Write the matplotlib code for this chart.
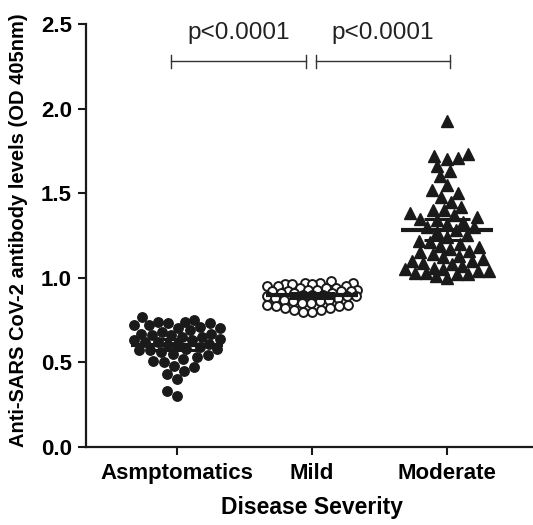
import numpy as np
import matplotlib
matplotlib.use("Agg")
import matplotlib.pyplot as plt

plt.rcParams['font.family'] = ['Liberation Sans', 'DejaVu Sans']

# data (OD 405nm)
groups = ['Asmptomatics', 'Mild', 'Moderate']

asymptomatic = [0.77, 0.75, 0.74, 0.74, 0.73, 0.73, 0.72, 0.72, 0.71, 0.70,
                0.70, 0.69, 0.68, 0.67, 0.67, 0.66, 0.66, 0.65, 0.65, 0.64,
                0.63, 0.63, 0.62, 0.62, 0.61, 0.60, 0.60, 0.59, 0.58, 0.58,
                0.57, 0.57, 0.56, 0.55, 0.54, 0.53, 0.52, 0.51, 0.50, 0.48,
                0.47, 0.45, 0.43, 0.40, 0.33, 0.30]

mild = [0.98, 0.97, 0.97, 0.97, 0.96, 0.96, 0.96, 0.95, 0.95, 0.95,
        0.94, 0.94, 0.94, 0.93, 0.93, 0.93, 0.92, 0.92, 0.92, 0.92,
        0.91, 0.91, 0.91, 0.90, 0.90, 0.90, 0.89, 0.89, 0.89, 0.88,
        0.88, 0.87, 0.87, 0.86, 0.86, 0.85, 0.85, 0.84, 0.84, 0.83,
        0.83, 0.82, 0.82, 0.81, 0.81, 0.80, 0.80]

moderate = [1.93, 1.73, 1.72, 1.71, 1.70, 1.66, 1.63, 1.60, 1.55, 1.52,
            1.50, 1.48, 1.45, 1.42, 1.40, 1.40, 1.38, 1.37, 1.36, 1.35,
            1.34, 1.33, 1.32, 1.30, 1.30, 1.28, 1.27, 1.25, 1.24, 1.22,
            1.21, 1.20, 1.19, 1.18, 1.17, 1.16, 1.15, 1.14, 1.13, 1.12,
            1.11, 1.10, 1.10, 1.09, 1.08, 1.07, 1.06, 1.05, 1.05, 1.04,
            1.04, 1.03, 1.03, 1.02, 1.02, 1.01, 1.00]

comparisons = [(0, 1, 'p<0.0001'), (1, 2, 'p<0.0001')]

ink = '#1a1a1a'

fig = plt.figure(figsize=(5.33, 5.25), dpi=100)
ax = fig.add_axes([0.161, 0.149, 0.839, 0.805])
ax.set_xlim(-0.674, 2.638)
ax.set_ylim(0, 2.5)


def swarm(values, center, diam_px, half_w_px):
    # simple beeswarm in pixel space, limited width, overlap allowed when full
    vals = np.asarray(values)
    pts = ax.transData.transform(np.column_stack([np.full(len(vals), center), vals]))
    cx = pts[0, 0]
    ys = pts[:, 1]
    order = np.argsort(ys)
    xs = np.zeros(len(vals))
    placed = []
    cands = np.arange(-half_w_px, half_w_px + 0.5, 1.0)
    cands = cands[np.argsort(np.abs(cands), kind='stable')]
    for i in order:
        best, best_d = 0.0, -1
        for c in cands:
            dmin = np.inf
            for (px, py) in placed:
                d = np.hypot(c - px, ys[i] - py)
                if d < dmin:
                    dmin = d
            if dmin >= diam_px:
                best = c
                break
            if dmin > best_d:
                best_d, best = dmin, c
        placed.append((best, ys[i]))
        xs[i] = best
    back = ax.transData.inverted().transform(np.column_stack([cx + xs, ys]))
    return back[:, 0]


x0 = swarm(asymptomatic, 0, 10.5, 43)
x1 = swarm(mild, 1, 8.5, 45)
x2 = swarm(moderate, 2, 10.5, 45)

ax.plot(x0, asymptomatic, 'o', ms=6.8, color=ink, mec=ink, zorder=3, clip_on=False)
ax.plot(x1, mild, 'o', ms=6.4, mfc='white', mec=ink, mew=1.4, zorder=3, clip_on=False)
ax.plot(x2, moderate, '^', ms=8.5, color=ink, mec=ink, zorder=3, clip_on=False)

# mean with 95% CI
for i, vals in enumerate([asymptomatic, mild, moderate]):
    v = np.asarray(vals)
    m = v.mean()
    ci = 1.96 * v.std(ddof=1) / np.sqrt(len(v))
    ax.plot([i - 0.34, i + 0.34], [m, m], color=ink, lw=3, zorder=4, solid_capstyle='butt')
    ax.plot([i, i], [m - ci, m + ci], color=ink, lw=2, zorder=4)
    for e in (m - ci, m + ci):
        ax.plot([i - 0.17, i + 0.17], [e, e], color=ink, lw=2.2, zorder=4, solid_capstyle='butt')

# significance brackets
for a, b, txt in comparisons:
    xa, xb = a - 0.04 if a == 0 else a + 0.03, b - 0.04 if b == 1 else b + 0.02
    y = 2.28
    ax.plot([xa, xb], [y, y], color='#333333', lw=1.0)
    for xx in (xa, xb):
        ax.plot([xx, xx], [y - 0.04, y + 0.04], color='#333333', lw=1.0)
    ax.text((xa + xb) / 2, 2.385, txt, ha='center', va='bottom', fontsize=17.5, color='#222222')

ax.set_xticks(range(len(groups)))
ax.set_xticklabels(groups, fontsize=16, fontweight='bold')
ax.set_yticks(np.arange(0, 2.51, 0.5))
ax.set_yticklabels(['%.1f' % t for t in np.arange(0, 2.51, 0.5)], fontsize=16, fontweight='bold')
ax.tick_params(axis='both', length=6, width=1.5, color=ink)
ax.tick_params(axis='x', pad=6)
ax.tick_params(axis='y', pad=4)

for s in ['top', 'right']:
    ax.spines[s].set_visible(False)
for s in ['left', 'bottom']:
    ax.spines[s].set_linewidth(1.6)
    ax.spines[s].set_color(ink)

ax.set_xlabel('Disease Severity', fontsize=16.5, fontweight='bold')
ax.xaxis.set_label_coords(0.505, -0.117)
ax.set_ylabel('Anti-SARS CoV-2 antibody levels (OD 405nm)', fontsize=14.5, fontweight='bold')
ax.yaxis.set_label_coords(-0.13, 0.513)

fig.savefig('out.png', dpi=100)
